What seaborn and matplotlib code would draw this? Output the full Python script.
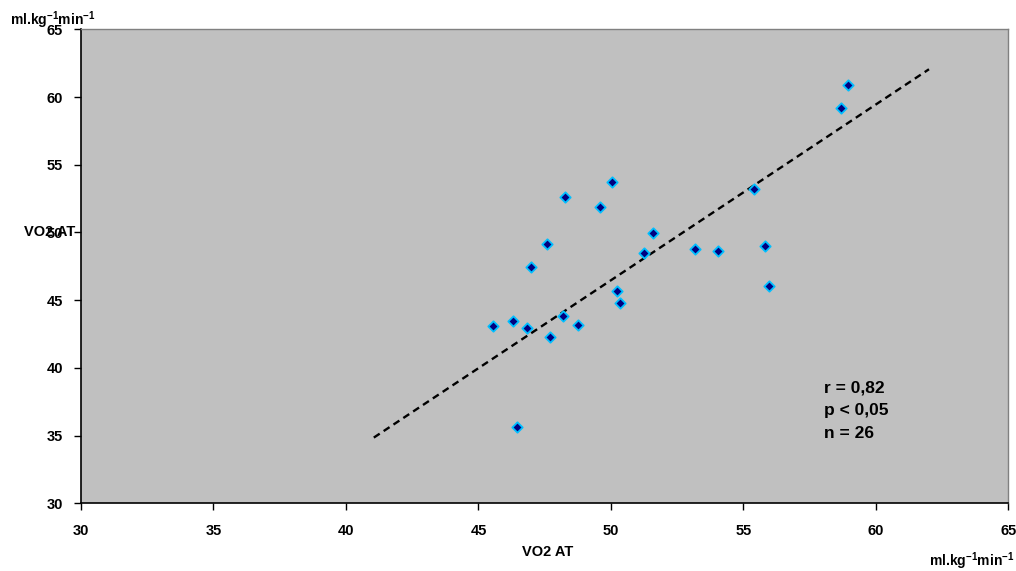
import matplotlib
matplotlib.use("Agg")
import matplotlib.pyplot as plt
import seaborn as sns
import pandas as pd

# VO2 at anaerobic threshold: paired measurements (ml.kg-1.min-1)
vo2_x = [50.05, 48.25, 49.60, 51.58, 47.60, 51.25, 53.17, 46.98, 50.22, 50.35,
         48.18, 48.77, 45.53, 46.31, 46.84, 47.69, 46.47, 58.93, 58.69, 55.41,
         54.02, 55.83, 55.98]
vo2_y = [53.74, 52.64, 51.85, 49.96, 49.12, 48.46, 48.77, 47.42, 45.65, 44.79,
         43.80, 43.16, 43.09, 43.48, 42.96, 42.25, 35.61, 60.89, 59.21, 53.23,
         48.63, 49.00, 46.06]

# regression line end points
fit_x = [41.05, 62.0]
fit_y = [34.85, 62.05]

x_ticks = [30, 35, 40, 45, 50, 55, 60, 65]
y_ticks = [30, 35, 40, 45, 50, 55, 60, 65]

stats_lines = ["r = 0,82", "p < 0,05", "n = 26"]
unit_label = "ml.kg$^{-1}$min$^{-1}$"

sns.set_style("white")
plt.rcParams["font.family"] = ["Liberation Sans", "DejaVu Sans"]
plt.rcParams["font.weight"] = "bold"
plt.rcParams["text.color"] = "black"
plt.rcParams["xtick.color"] = "black"
plt.rcParams["ytick.color"] = "black"
plt.rcParams["xtick.labelcolor"] = "black"
plt.rcParams["ytick.labelcolor"] = "black"
plt.rcParams["mathtext.fontset"] = "custom"
plt.rcParams["mathtext.rm"] = "Liberation Sans:bold"
plt.rcParams["mathtext.it"] = "Liberation Sans:bold"
plt.rcParams["mathtext.bf"] = "Liberation Sans:bold"
plt.rcParams["mathtext.default"] = "rm"

df = pd.DataFrame({"x": vo2_x, "y": vo2_y})
fit = pd.DataFrame({"x": fit_x, "y": fit_y})

fig = plt.figure(figsize=(10.16, 5.71), dpi=100)
ax = fig.add_axes([0.0797, 0.1186, 0.9129, 0.8301])
ax.set_facecolor("#C0C0C0")

sns.lineplot(data=fit, x="x", y="y", ax=ax, color="black", linewidth=1.7,
             linestyle=(0, (3, 2)), zorder=2)
sns.scatterplot(data=df, x="x", y="y", ax=ax, marker="D", s=28,
                color="#000080", edgecolor="#00BFFF", linewidth=1.3, zorder=3)

ax.set_xlim(30, 65)
ax.set_ylim(30, 65)
ax.set_xticks(x_ticks)
ax.set_yticks(y_ticks)
ax.set_xticklabels([str(t) for t in x_ticks], fontsize=10.5, fontweight="bold",
                   color="black")
ax.set_yticklabels([str(t) for t in y_ticks], fontsize=10.5, fontweight="bold",
                   color="black")
ax.tick_params(axis="both", direction="out", length=5, width=1, color="black",
               pad=8, bottom=True, left=True)
ax.tick_params(axis="x", pad=10)

for side in ("left", "bottom"):
    ax.spines[side].set_color("black")
    ax.spines[side].set_linewidth(1.2)
for side in ("top", "right"):
    ax.spines[side].set_color("#808080")
    ax.spines[side].set_linewidth(1.0)

ax.set_xlabel("")
ax.set_ylabel("")

# axis titles and units
fig.text(548 / 1016, 1 - 552 / 571, "VO2 AT", ha="center", va="center",
         fontsize=10.5, fontweight="bold", color="black")
fig.text(75 / 1016, 1 - 232 / 571, "VO2 AT", ha="right", va="center",
         fontsize=10.5, fontweight="bold", color="black")
fig.text(10 / 1016, 1 - 20 / 571, unit_label, ha="left", va="center",
         fontsize=10, fontweight="bold", color="black")
fig.text(1014 / 1016, 1 - 561 / 571, unit_label, ha="right", va="center",
         fontsize=10, fontweight="bold", color="black")

for i, line in enumerate(stats_lines):
    fig.text(824 / 1016, 1 - (388 + i * 22.7) / 571, line, ha="left", va="center",
             fontsize=12.5, fontweight="bold", color="black")

fig.savefig("out.png", dpi=100, facecolor="white")
